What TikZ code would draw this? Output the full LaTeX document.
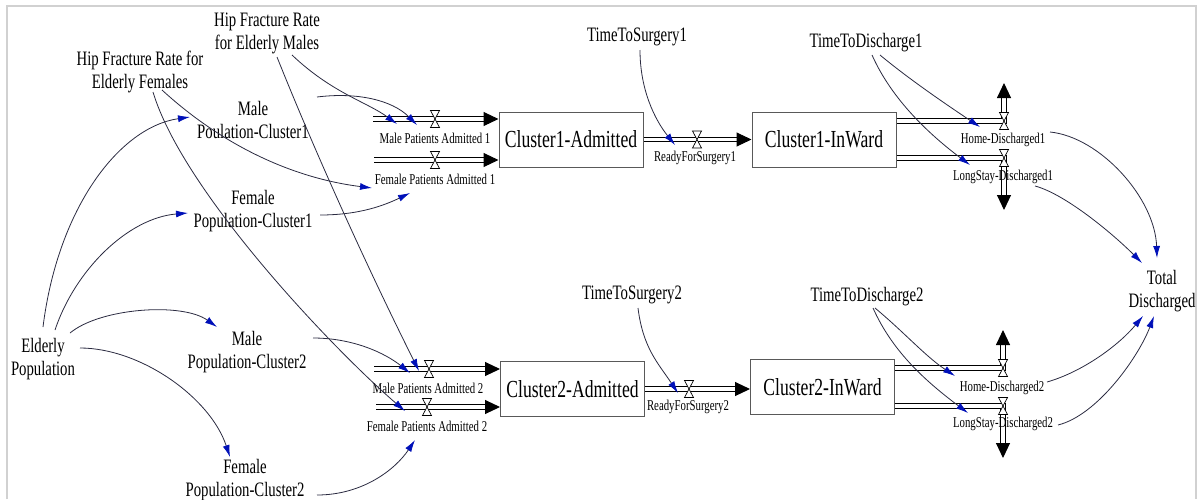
\documentclass[tikz,border=0pt]{standalone}
\usepackage{fontspec}
\setmainfont{Liberation Serif}[FakeStretch=0.72]
\usetikzlibrary{arrows.meta,calc}
\definecolor{conncol}{HTML}{2A2A40}
\definecolor{tipcol}{HTML}{0010B8}
\begin{document}
\begin{tikzpicture}[x=1pt,y=-1pt,
 aux/.style={inner sep=0pt, align=center, font=\fontsize{20.5}{23}\selectfont},
 flowlab/.style={inner sep=0pt, font=\fontsize{15}{17}\selectfont},
 stock/.style={draw=black!65, line width=1pt, minimum width=144pt, minimum height=55pt, inner sep=0pt, font=\fontsize{24.5}{28}\selectfont},
 pipe/.style={draw=black, line width=1pt, double=white, double distance=3.2pt, -{Triangle[length=15pt,width=14pt]}},
 conn/.style={draw=conncol, line width=0.8pt, -{Latex[length=12pt,width=7pt,color=tipcol]}},
 valve/.pic={\draw[black, line width=0.7pt, fill=white] (-4.5,-8.5) -- (4.5,-8.5) -- (-4.5,8.5) -- (4.5,8.5) -- cycle;}
]
\useasboundingbox (0,0) rectangle (1202,499);
\draw[black!18, line width=1.5pt] (7,499) -- (7,6) -- (1196,6) -- (1196,499);

% stocks
\node[stock] (adm1) at (571,139.5) {Cluster1-Admitted};
\node[stock] (inw1) at (824,139.5) {Cluster1-InWard};
\node[stock] (adm2) at (572.5,389) {Cluster2-Admitted};
\node[stock] (inw2) at (822.5,387) {Cluster2-InWard};

% pipes
\coordinate (src1) at (373,119);
\coordinate (src2) at (374,160);
\coordinate (src3) at (374,369);
\coordinate (src4) at (376,407);
\draw[pipe] (src1) -- (src1 -| adm1.west);
\draw[pipe] (src2) -- (src2 -| adm1.west);
\draw[pipe] (src3) -- (src3 -| adm2.west);
\draw[pipe] (src4) -- (src4 -| adm2.west);
\draw[pipe] (adm1.east) -- (adm1.east -| inw1.west);
\draw[pipe] (adm2.east) -- (adm2.east -| inw2.west);
\coordinate (hd1c) at (1004,121);
\coordinate (hd1e) at (1004,83);
\coordinate (ls1c) at (1004,158);
\coordinate (ls1e) at (1004,210);
\coordinate (hd2c) at (1003,368);
\coordinate (hd2e) at (1003,330);
\coordinate (ls2c) at (1003,406);
\coordinate (ls2e) at (1003,458);
\draw[pipe] (inw1.east |- hd1c) -- (hd1c) -- (hd1e);
\draw[pipe] (inw1.east |- ls1c) -- (ls1c) -- (ls1e);
\draw[pipe] (inw2.east |- hd2c) -- (hd2c) -- (hd2e);
\draw[pipe] (inw2.east |- ls2c) -- (ls2c) -- (ls2e);

% valves
\pic at (435,119) {valve};
\pic at (435,160) {valve};
\pic at (697,139.5) {valve};
\pic at (1004,121) {valve};
\pic at (1004,158) {valve};
\pic at (429,369) {valve};
\pic at (427,407) {valve};
\pic at (689,389) {valve};
\pic at (1003,368) {valve};
\pic at (1003,406) {valve};

% flow labels
\node[flowlab] (mpa1) at (435,138) {Male Patients Admitted 1};
\node[flowlab] (fpa1) at (435,179) {Female Patients Admitted 1};
\node[flowlab] (rfs1) at (695,158) {ReadyForSurgery1};
\node[flowlab] (hd1) at (1003,140) {Home-Discharged1};
\node[flowlab] (lsd1) at (1003,177) {LongStay-Discharged1};
\node[flowlab] (mpa2) at (428,388) {Male Patients Admitted 2};
\node[flowlab] (fpa2) at (427,426) {Female Patients Admitted 2};
\node[flowlab] (rfs2) at (688,407) {ReadyForSurgery2};
\node[flowlab] (hd2) at (1002,388) {Home-Discharged2};
\node[flowlab] (lsd2) at (1003,424) {LongStay-Discharged2};

% auxiliaries
\node[aux] (hipM) at (267,33) {Hip Fracture Rate\\for Elderly Males};
\node[aux] (hipF) at (140,72) {Hip Fracture Rate for\\Elderly Females};
\node[aux] (maleC1) at (253,120) {Male\\Poulation-Cluster1};
\node[aux] (femC1) at (253,211) {Female\\Population-Cluster1};
\node[aux] (elderly) at (43,359) {Elderly\\Population};
\node[aux] (maleC2) at (247,352) {Male\\Population-Cluster2};
\node[aux] (femC2) at (245,480) {Female\\Population-Cluster2};
\node[aux] (tts1) at (637,37) {TimeToSurgery1};
\node[aux] (ttd1) at (866,43) {TimeToDischarge1};
\node[aux] (tts2) at (632,295) {TimeToSurgery2};
\node[aux] (ttd2) at (867,297) {TimeToDischarge2};
\node[aux] (total) at (1162,291) {Total\\Discharged};

% connectors
\draw[conn] ($(hipM)+(25,22)$) .. controls +(40,38) and +(-30,-22) .. ($(mpa1)+(-38,-14)$);
\draw[conn] ($(hipM)+(10,24)$) .. controls +(40,100) and +(-50,-100) .. ($(mpa2)+(-9,-17)$);
\draw[conn] ($(maleC1)+(64,-23)$) .. controls +(40,-5) and +(-25,-25) .. ($(mpa1)+(-18,-13)$);
\draw[conn] ($(hipF)+(22,18)$) .. controls +(60,55) and +(-80,-10) .. ($(fpa1)+(-63,9)$);
\draw[conn] ($(hipF)+(13,20)$) .. controls +(30,100) and +(-70,-60) .. ($(fpa2)+(-22,-15)$);
\draw[conn] ($(femC1)+(67,4)$) .. controls +(40,0) and +(-25,12) .. ($(fpa1)+(-25,14)$);
\draw[conn] ($(elderly)+(0,-32)$) .. controls +(15,-120) and +(-70,10) .. ($(maleC1)+(-63,-3)$);
\draw[conn] ($(elderly)+(12,-29)$) .. controls +(20,-60) and +(-60,5) .. ($(femC1)+(-65,2)$);
\draw[conn] ($(elderly)+(27,-26)$) .. controls +(30,-25) and +(-35,-25) .. ($(maleC2)+(-30,-25)$);
\draw[conn] ($(elderly)+(37,-11)$) .. controls +(60,0) and +(-20,-60) .. ($(femC2)+(-15,-23)$);
\draw[conn] ($(maleC2)+(66,-14)$) .. controls +(40,0) and +(-25,-20) .. ($(mpa2)+(-18,-15)$);
\draw[conn] ($(femC2)+(72,15)$) .. controls +(45,0) and +(-20,30) .. ($(fpa2)+(-12,14)$);
\draw[conn] ($(tts1)+(3,13)$) .. controls +(0,40) and +(-20,-25) .. ($(rfs1)+(-20,-13)$);
\draw[conn] ($(tts2)+(6,13)$) .. controls +(5,40) and +(-20,-30) .. ($(rfs2)+(-10,-14)$);
\draw[conn] ($(ttd1)+(14,12)$) .. controls +(30,25) and +(-30,-20) .. ($(hd1)+(-23,-13)$);
\draw[conn] ($(ttd1)+(6,12)$) .. controls +(20,45) and +(-40,-30) .. ($(lsd1)+(-33,-12)$);
\draw[conn] ($(ttd2)+(8,11)$) .. controls +(30,25) and +(-30,-20) .. ($(hd2)+(-47,-12)$);
\draw[conn] ($(ttd2)+(6,11)$) .. controls +(20,45) and +(-40,-30) .. ($(lsd2)+(-35,-11)$);
\draw[conn] ($(hd1)+(47,-8)$) .. controls +(50,5) and +(-2,-60) .. ($(total)+(-5,-33)$);
\draw[conn] ($(lsd1)+(32,9)$) .. controls +(30,8) and +(-30,-30) .. ($(total)+(-20,-28)$);
\draw[conn] ($(hd2)+(45,-6)$) .. controls +(35,-10) and +(-25,30) .. ($(total)+(-19,25)$);
\draw[conn] ($(lsd2)+(55,1)$) .. controls +(40,-10) and +(-15,40) .. ($(total)+(-8,25)$);
\end{tikzpicture}
\end{document}
